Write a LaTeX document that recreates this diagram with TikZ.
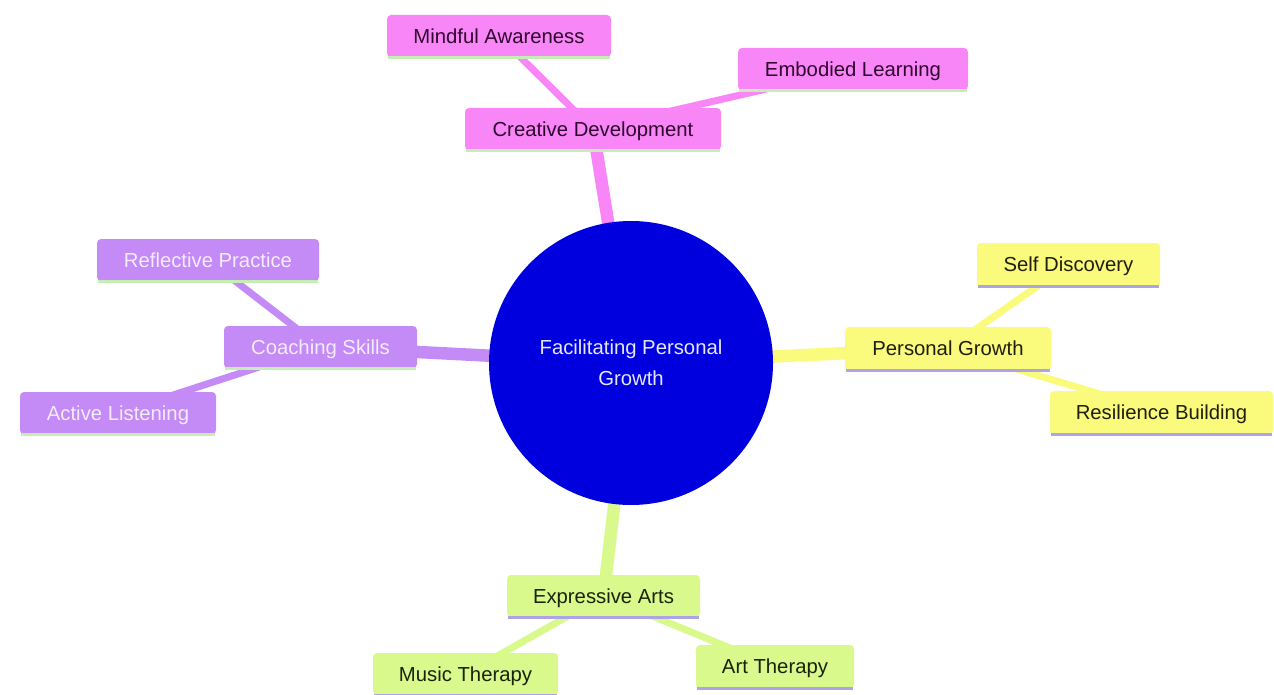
\documentclass[tikz,border=0pt]{standalone}
\usepackage{fontspec}
\setmainfont{Liberation Sans}
\usetikzlibrary{backgrounds}
\definecolor{rootblue}{RGB}{0,0,222}
\definecolor{pinkc}{RGB}{249,134,247}
\definecolor{purplec}{RGB}{196,138,245}
\definecolor{yellowc}{RGB}{250,250,125}
\definecolor{greenc}{RGB}{217,249,140}
\definecolor{pinktext}{RGB}{45,5,45}
\definecolor{purpletext}{RGB}{244,236,255}
\definecolor{yellowtext}{RGB}{30,30,10}
\definecolor{greentext}{RGB}{25,35,10}
\definecolor{linegreen}{RGB}{196,238,180}
\definecolor{linelav}{RGB}{172,164,228}
\definecolor{roottext}{RGB}{230,230,255}
\tikzset{
  x=1pt,y=1pt,
  box/.style={rounded corners=4pt, minimum height=42pt, inner sep=0pt, text height=14.3pt, text depth=0pt,
    font=\fontsize{20.3}{24}\selectfont},
  pinkbox/.style={box, fill=pinkc, text=pinktext},
  purplebox/.style={box, fill=purplec, text=purpletext},
  yellowbox/.style={box, fill=yellowc, text=yellowtext},
  greenbox/.style={box, fill=greenc, text=greentext},
  rootedge/.style={line width=12.5pt},
  childedge/.style={line width=7pt},
  underline/.style={line width=3pt},
}
\begin{document}
\begin{tikzpicture}
\useasboundingbox (0,0) rectangle (1274,-695);
\node[circle, fill=rootblue, minimum size=284pt, inner sep=0pt, text=roottext, align=center,
  font=\fontsize{20.3}{31}\selectfont] (root) at (631,-363) {Facilitating Personal\\Growth};
% pink branch
\node[pinkbox, minimum width=256pt] (cd) at (593,-129) {Creative Development};
\node[pinkbox, minimum width=224pt] (ma) at (499,-36) {Mindful Awareness};
\node[pinkbox, minimum width=230pt] (el) at (853,-69) {Embodied Learning};
% yellow branch
\node[yellowbox, minimum width=206pt, minimum height=43pt] (pg) at (948,-348.5) {Personal Growth};
\node[yellowbox, minimum width=183pt, minimum height=43pt] (sd) at (1068.5,-264.5) {Self Discovery};
\node[yellowbox, minimum width=223pt, minimum height=43pt] (rb) at (1161.5,-412.5) {Resilience Building};
% purple branch
\node[purplebox, minimum width=193pt] (cs) at (320.5,-347) {Coaching Skills};
\node[purplebox, minimum width=222pt] (rp) at (208,-260) {Reflective Practice};
\node[purplebox, minimum width=196pt] (al) at (118,-413) {Active Listening};
% green branch
\node[greenbox, minimum width=193pt] (ea) at (603.5,-596) {Expressive Arts};
\node[greenbox, minimum width=185pt] (mt) at (465.5,-674) {Music Therapy};
\node[greenbox, minimum width=158pt, minimum height=43pt] (at) at (775,-666.5) {Art Therapy};
% bottom lines
\foreach \n/\c in {cd/linegreen, ma/linegreen, el/linegreen, cs/linegreen, rp/linegreen, al/linegreen,
                   pg/linelav, sd/linelav, rb/linelav, ea/linelav, mt/linelav, at/linelav}
  \draw[underline, \c] ([xshift=1pt]\n.south west) -- ([xshift=-1pt]\n.south east);
\begin{pgfonlayer}{background}
  \draw[rootedge, pinkc] (root.center) -- (cd.center);
  \draw[rootedge, yellowc] (root.center) -- (pg.center);
  \draw[rootedge, purplec] (root.center) -- (cs.center);
  \draw[rootedge, greenc] (root.center) -- (ea.center);
  \draw[childedge, pinkc] (cd.center) -- (ma.center);
  \draw[childedge, pinkc] (cd.center) -- (el.center);
  \draw[childedge, yellowc] (pg.center) -- (sd.center);
  \draw[childedge, yellowc] (pg.center) -- (rb.center);
  \draw[childedge, purplec] (cs.center) -- (rp.center);
  \draw[childedge, purplec] (cs.center) -- (al.center);
  \draw[childedge, greenc] (ea.center) -- (mt.center);
  \draw[childedge, greenc] (ea.center) -- (at.center);
\end{pgfonlayer}
\end{tikzpicture}
\end{document}
